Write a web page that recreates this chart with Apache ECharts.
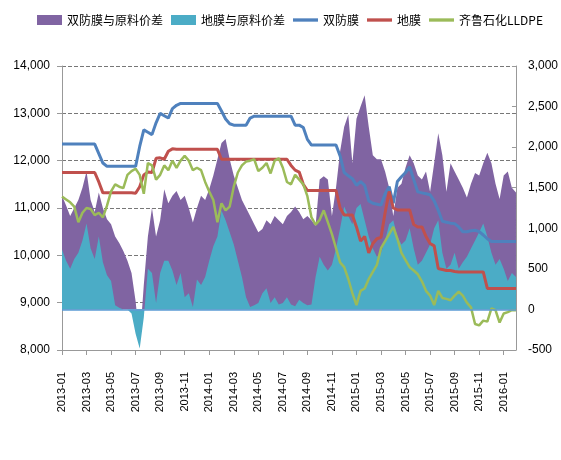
<!DOCTYPE html>
<html>
<head>
<meta charset="utf-8">
<script src="https://cdn.jsdelivr.net/npm/echarts@6/dist/echarts.min.js"></script>
<style>
html,body{margin:0;padding:0;background:#fff;}
#main{width:561px;height:460px;}
</style>
</head>
<body>
<div id="main"></div>
<script>
// 月份，每月取上中下旬三个点
var months = ['2013-01','2013-02','2013-03','2013-04','2013-05','2013-06','2013-07','2013-08','2013-09','2013-10','2013-11','2013-12',
	'2014-01','2014-02','2014-03','2014-04','2014-05','2014-06','2014-07','2014-08','2014-09','2014-10','2014-11','2014-12',
	'2015-01','2015-02','2015-03','2015-04','2015-05','2015-06','2015-07','2015-08','2015-09','2015-10','2015-11','2015-12',
	'2016-01','2016-02'];
var periods = ['上旬','中旬','下旬'];

var legendNames = ['双防膜与原料价差','地膜与原料价差','双防膜','地膜','齐鲁石化LLDPE'];
var colors = ['#8064A2','#4BACC6','#4F81BD','#C0504D','#9BBB59'];

// 双防膜价格（左轴）
var shuangfang = [
	12350,12350,12350,12350,12350,12350,12350,12350,12350,12150,
	11950,11880,11880,11880,11880,11880,11880,11880,11880,12300,
	12650,12600,12550,12800,13000,12950,12900,13100,13170,13210,
	13210,13210,13210,13210,13210,13210,13210,13210,13210,13050,
	12880,12780,12750,12750,12750,12750,12900,12940,12940,12940,
	12940,12940,12940,12940,12940,12940,12940,12750,12750,12700,
	12450,12330,12330,12330,12330,12330,12330,12330,12100,11750,
	11680,11620,11480,11560,11480,11150,11100,11080,11060,11300,
	11450,11100,11560,11660,11750,11870,11600,11340,11320,11300,
	11280,11150,10950,10720,10700,10680,10670,10600,10500,10500,
	10520,10530,10500,10430,10350,10290,10290,10290,10290,10290,
	10290,10290
];
// 地膜价格（左轴）
var dimo = [
	11750,11750,11750,11750,11750,11750,11750,11750,11750,11550,
	11320,11320,11320,11320,11320,11320,11320,11320,11310,11450,
	11700,11760,11750,12050,12060,12030,12200,12250,12240,12240,
	12240,12240,12240,12240,12240,12240,12240,12240,12240,12030,
	12030,12030,12030,12030,12030,12030,12030,12030,12030,12030,
	12030,12030,12030,12030,12030,12030,11900,11800,11760,11500,
	11370,11370,11370,11370,11370,11370,11370,11370,11000,10850,
	10850,10850,10600,10300,10400,10050,10250,10350,10380,10900,
	11350,11000,10960,10960,10960,10960,10650,10600,10600,10400,
	10250,10200,9720,9700,9680,9680,9660,9650,9650,9650,
	9650,9650,9650,9650,9300,9300,9300,9300,9300,9300,
	9300,9300
];
// 齐鲁石化LLDPE（左轴）
var lldpe = [
	11240,11180,11120,11030,10700,10900,11000,10980,10850,10900,
	10800,11050,11350,11500,11450,11420,11700,11780,11830,11700,
	11300,11950,11900,11600,11700,11900,11800,12000,11850,12000,
	12100,12000,11800,11850,11800,11550,11350,11170,10700,11100,
	10950,11030,11450,11750,11900,11980,12000,12030,11780,11850,
	11950,11730,12000,12050,11850,11550,11500,11700,11600,11500,
	11250,10800,10650,10750,10950,10700,10450,10150,9850,9750,
	9500,9200,8950,9250,9300,9500,9650,9800,10150,10300,
	10450,10600,10350,10050,9900,9750,9680,9600,9450,9250,
	9150,8950,9250,9100,9080,9050,9150,9230,9150,9000,
	8900,8550,8520,8620,8600,8880,8840,8580,8770,8800,
	8840,8840
];
// 双防膜与原料价差（右轴）
var sfSpread = [
	1400,1280,1150,1250,1350,1500,1700,1350,1200,1440,
	1250,1110,1050,900,820,720,600,450,100,-400,
	300,900,1250,900,1100,1480,1310,1400,1460,1350,
	1400,1250,1070,1250,1400,1350,1480,1650,1850,2050,
	2100,1850,1650,1500,1350,1250,1150,1050,950,990,
	1100,1050,1150,1100,1050,1150,1200,1270,1200,1110,
	1150,1100,1030,1600,1640,1600,1150,1500,1950,2250,
	2400,1800,2350,2500,2640,2250,1900,1850,1850,1700,
	1500,1150,1500,1550,1750,1900,1800,1650,1600,1700,
	1450,1800,2170,1900,1450,1800,1700,1600,1500,1380,
	1550,1680,1650,1800,1930,1800,1550,1360,1650,1700,
	1500,1440
];
// 地膜与原料价差（右轴）
var dmSpread = [
	740,600,500,620,700,850,1060,750,620,900,
	580,420,350,50,20,0,0,-50,-300,-480,
	-100,500,450,80,450,600,600,480,300,450,
	150,200,30,370,300,400,600,780,900,1220,
	1100,950,800,600,400,150,30,50,80,200,
	260,80,150,60,80,150,60,40,120,80,
	50,60,400,650,550,480,550,750,1000,1270,
	1150,1050,1250,1300,1100,900,750,650,700,850,
	1050,1100,900,800,850,1000,750,550,600,700,
	800,1000,1100,700,500,550,700,500,580,650,
	750,850,950,1060,900,700,550,620,500,350,
	450,400
];

var categories = [];
for (var m = 0; m < months.length; m++) {
	for (var p = 0; p < 3; p++) {
		if (categories.length < shuangfang.length) {
			categories.push(months[m] + periods[p]);
		}
	}
}

function everyTwoMonths(index) {
	return index % 6 === 0;
}

var myChart = echarts.init(document.getElementById('main'));
var lineIcon = 'path://M0,0 L30,0 L30,4 L0,4 Z';
var option = {
	animation: false,
	legend: {
		left: 37,
		top: 14,
		padding: 0,
		itemWidth: 25,
		itemHeight: 10,
		itemGap: 8,
		textStyle: {
			fontSize: 12,
			color: '#000',
			fontFamily: 'Noto Sans CJK SC'
		},
		data: [
			{name: legendNames[0], icon: 'rect'},
			{name: legendNames[1], icon: 'rect'},
			{name: legendNames[2], icon: lineIcon},
			{name: legendNames[3], icon: lineIcon},
			{name: legendNames[4], icon: lineIcon}
		]
	},
	grid: {
		left: 62,
		right: 40,
		top: 66,
		bottom: 110
	},
	xAxis: {
		type: 'category',
		boundaryGap: false,
		data: categories,
		axisLine: {
			onZero: false,
			lineStyle: {color: '#999'}
		},
		axisTick: {
			interval: everyTwoMonths,
			length: 5,
			lineStyle: {color: '#999'}
		},
		axisLabel: {
			interval: everyTwoMonths,
			rotate: 90,
			margin: 22,
			fontSize: 11,
			color: '#000',
			formatter: function(v) { return v.slice(0, 7); }
		}
	},
	yAxis: [
		{
			type: 'value',
			min: 8000,
			max: 14000,
			interval: 1000,
			axisLine: {show: true, lineStyle: {color: '#999'}},
			axisTick: {show: true, length: 5, lineStyle: {color: '#999'}},
			axisLabel: {fontSize: 12, color: '#000', margin: 12},
			splitLine: {
				show: true,
				lineStyle: {color: '#777', type: 'dashed', width: 1}
			}
		},
		{
			type: 'value',
			min: -500,
			max: 3000,
			interval: 500,
			position: 'right',
			axisLine: {show: true, lineStyle: {color: '#999'}},
			axisTick: {show: true, inside: true, length: 4, lineStyle: {color: '#999'}},
			axisLabel: {fontSize: 12, color: '#000', margin: 12},
			splitLine: {show: false}
		}
	],
	series: [
		{
			name: legendNames[0],
			type: 'line',
			yAxisIndex: 1,
			data: sfSpread,
			showSymbol: false,
			itemStyle: {color: colors[0]},
			lineStyle: {width: 0},
			areaStyle: {color: colors[0], opacity: 1}
		},
		{
			name: legendNames[1],
			type: 'line',
			yAxisIndex: 1,
			data: dmSpread,
			showSymbol: false,
			itemStyle: {color: colors[1]},
			lineStyle: {width: 0},
			areaStyle: {color: colors[1], opacity: 1},
			// 价差零线
			markLine: {
				silent: true,
				symbol: 'none',
				label: {show: false},
				lineStyle: {color: '#5B9BD5', type: 'solid', width: 1.5},
				data: [{yAxis: 0}]
			}
		},
		{
			name: legendNames[2],
			type: 'line',
			data: shuangfang,
			showSymbol: false,
			itemStyle: {color: colors[2]},
			lineStyle: {color: colors[2], width: 3}
		},
		{
			name: legendNames[3],
			type: 'line',
			data: dimo,
			showSymbol: false,
			itemStyle: {color: colors[3]},
			lineStyle: {color: colors[3], width: 3}
		},
		{
			name: legendNames[4],
			type: 'line',
			data: lldpe,
			showSymbol: false,
			itemStyle: {color: colors[4]},
			lineStyle: {color: colors[4], width: 2.5}
		}
	]
};
myChart.setOption(option);
</script>
</body>
</html>
